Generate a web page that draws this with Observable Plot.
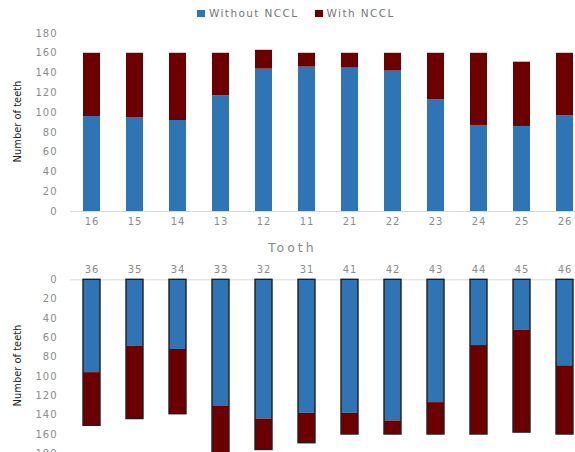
<!DOCTYPE html>
<html><head><meta charset="utf-8">
<script src="https://cdn.jsdelivr.net/npm/d3@7"></script>
<script src="https://cdn.jsdelivr.net/npm/@observablehq/plot@0.6"></script>
<style>
html,body{margin:0;padding:0;background:#fff;overflow:hidden;}
#wrap{position:relative;width:575px;height:452px;overflow:hidden;font-family:"DejaVu Sans",sans-serif;}
#top,#bottom{position:absolute;left:0;}
#top{top:0}
#bottom{top:230px}
#legend{position:absolute;top:7px;left:197px;font-size:10.5px;line-height:12px;color:#777;letter-spacing:1.4px;display:flex;align-items:center;white-space:nowrap}
.sw{display:inline-block;width:8px;height:7px;margin-right:4px}
.item{display:flex;align-items:center;margin-right:16px}
#tooth{position:absolute;left:268px;top:240px;font-size:12.5px;letter-spacing:3px;color:#8a8a8a}
g[aria-label="y-axis tick label"], g[aria-label="x-axis tick label"]{letter-spacing:1px}
</style></head><body>
<div id="wrap"><div id="top"></div><div id="bottom"></div><div id="legend"></div><div id="tooth"></div></div>
<script>
const seriesNames = ["Without NCCL", "With NCCL"];
const seriesColors = ["#2f74b5", "#6c0000"];

const upperTeeth   = ["16","15","14","13","12","11","21","22","23","24","25","26"];
const upperWithout = [96, 95, 92, 117, 144, 146, 145, 142, 113, 87, 86, 97];
const upperWith    = [64, 65, 68, 43, 19, 14, 15, 18, 47, 73, 65, 63];

const lowerTeeth   = ["36","35","34","33","32","31","41","42","43","44","45","46"];
const lowerWithout = [96, 69, 72, 131, 144, 138, 138, 146, 127, 68, 52, 89];
const lowerWith    = [55, 75, 67, 54, 32, 31, 22, 14, 33, 92, 106, 71];

const yTicks = [0, 20, 40, 60, 80, 100, 120, 140, 160, 180];
const yTitle = "Number of teeth";
const xTitle = "Tooth";

function rows(teeth, a, b) {
  return teeth.flatMap((t, i) => [
    {tooth: t, series: seriesNames[0], n: a[i]},
    {tooth: t, series: seriesNames[1], n: b[i]}
  ]);
}
function xOpts(teeth) {
  return {type: "band", domain: teeth, range: [69.5, 585.5], paddingInner: 0.605, paddingOuter: 0.3025};
}
const baseStyle = {fontFamily: "DejaVu Sans", fontSize: "10px", background: "transparent", overflow: "visible"};
const tickFill = "#8c8c8c";

const upperData = rows(upperTeeth, upperWithout, upperWith);
const lowerData = rows(lowerTeeth, lowerWithout, lowerWith);

const titleOpts = {frameAnchor: "left", textAnchor: "middle", lineAnchor: "middle", dx: -53.5, rotate: -90,
  fontFamily: "DejaVu Sans Condensed", fontSize: 11, fill: "#222"};

const topPlot = Plot.plot({
  width: 575, height: 240,
  marginTop: 33, marginBottom: 29, marginLeft: 70, marginRight: 0,
  style: baseStyle,
  x: xOpts(upperTeeth),
  y: {domain: [0, 180], range: [211, 33]},
  color: {domain: seriesNames, range: seriesColors},
  marks: [
    Plot.ruleY([0], {stroke: "#d9d9d9", strokeWidth: 1}),
    Plot.barY(upperData, {x: "tooth", y: "n", fill: "series"}),
    Plot.axisY(yTicks, {tickSize: 0, tickPadding: 13, fill: tickFill, label: null}),
    Plot.axisX({tickSize: 0, tickPadding: 6, fill: tickFill, label: null}),
    Plot.text([yTitle], {...titleOpts, dy: -1})
  ]
});
document.getElementById("top").appendChild(topPlot);

const bottomPlot = Plot.plot({
  width: 575, height: 260,
  marginTop: 49.3, marginBottom: 17.3, marginLeft: 70, marginRight: 0,
  style: baseStyle,
  x: xOpts(lowerTeeth),
  y: {domain: [0, 200], range: [49.3, 242.7]},
  color: {domain: seriesNames, range: seriesColors},
  marks: [
    Plot.ruleY([0], {stroke: "#d9d9d9", strokeWidth: 1}),
    Plot.barY(lowerData, {x: "tooth", y: "n", fill: "series"}),
    Plot.barY(lowerData, Plot.groupX({y: "sum"}, {x: "tooth", y: "n", fill: "none", stroke: "#1e1e1e", strokeWidth: 1.4})),
    Plot.axisY(yTicks, {tickSize: 0, tickPadding: 13, fill: tickFill, label: null}),
    Plot.axisX({anchor: "top", tickSize: 0, tickPadding: 7, fill: tickFill, label: null}),
    Plot.text([yTitle], {...titleOpts, dy: -11})
  ]
});
document.getElementById("bottom").appendChild(bottomPlot);

const legend = document.getElementById("legend");
seriesNames.forEach((name, i) => {
  const item = document.createElement("span");
  item.className = "item";
  const sw = document.createElement("span");
  sw.className = "sw";
  sw.style.background = seriesColors[i];
  item.appendChild(sw);
  item.appendChild(document.createTextNode(name));
  legend.appendChild(item);
});
document.getElementById("tooth").textContent = xTitle;
</script>
</body></html>
